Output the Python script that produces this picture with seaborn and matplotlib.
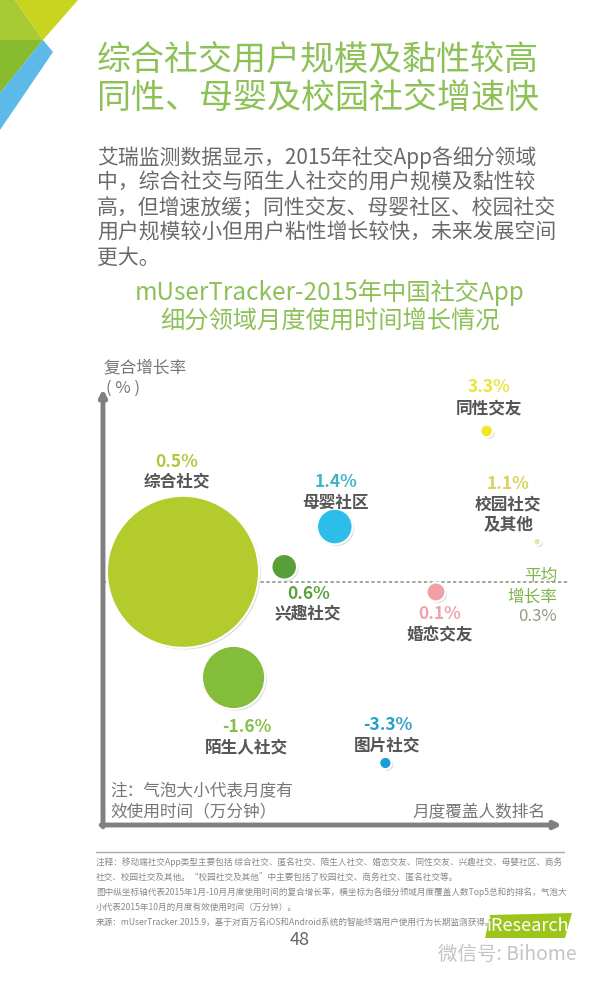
import numpy as np
import pandas as pd
import matplotlib
matplotlib.use('Agg')
import matplotlib.pyplot as plt
import matplotlib.patheffects as pe
from matplotlib.patches import Polygon
import seaborn as sns

# ---------------- data ----------------
categories = ['综合社交', '陌生人社交', '兴趣社交', '母婴社区', '图片社交', '婚恋交友', '同性交友', '校园社交\n及其他']
coverage_rank = [1, 2, 3, 4, 5, 6, 7, 8]            # 月度覆盖人数排名
growth_rate = [0.5, -1.6, 0.6, 1.4, -3.3, 0.1, 3.3, 1.1]  # 复合增长率 (%)
usage_time = [5780, 1000, 164, 317, 38, 90, 40, 14]  # 月度有效使用时间 (relative bubble size)
avg_growth = 0.3

title_lines = ['综合社交用户规模及黏性较高', '同性、母婴及校园社交增速快']
body_lines = ['艾瑞监测数据显示，2015年社交App各细分领域',
              '中，综合社交与陌生人社交的用户规模及黏性较',
              '高，但增速放缓；同性交友、母婴社区、校园社交',
              '用户规模较小但用户粘性增长较快，未来发展空间',
              '更大。']
chart_title = ['mUserTracker-2015年中国社交App', '细分领域月度使用时间增长情况']
footer_lines = ['注释：移动端社交App类型主要包括 综合社交、匿名社交、陌生人社交、婚恋交友、同性交友、兴趣社交、母婴社区、商务',
                '社交、校园社交及其他。“校园社交及其他”中主要包括了校园社交、商务社交、匿名社交等。',
                '图中纵坐标轴代表2015年1月-10月月度使用时间的复合增长率，横坐标为各细分领域月度覆盖人数Top5总和的排名，气泡大',
                '小代表2015年10月的月度有效使用时间（万分钟）。',
                '来源：mUserTracker.2015.9，基于对百万名iOS和Android系统的智能终端用户使用行为长期监测获得。']

# ---------------- styles ----------------
bubble_colors = {'综合社交': '#B3CB2D', '陌生人社交': '#84BD3A', '兴趣社交': '#5A9E3A', '母婴社区': '#2DBDEB',
                 '图片社交': '#1B9DD8', '婚恋交友': '#F2A0A6', '同性交友': '#F1E823', '校园社交\n及其他': '#E6E4A6'}
pct_colors = {'综合社交': '#AFC83A', '陌生人社交': '#86BE45', '兴趣社交': '#5C9F3C', '母婴社区': '#3FB6C6',
              '图片社交': '#2A9FC6', '婚恋交友': '#F0A2AA', '同性交友': '#EDE53A', '校园社交\n及其他': '#D9D257'}
# label offsets from bubble centre in pixels (pct dx, pct dy, name dy); dy positive = up
label_offsets = {'综合社交': (-6, 110, 90), '陌生人社交': (13, -50, -70), '兴趣社交': (24, -27, -47),
                 '母婴社区': (1, 45, 24), '图片社交': (2, 38, 18), '婚恋交友': (4, -22, -44),
                 '同性交友': (2, 44, 23), '校园社交\n及其他': (-29, 58, 27)}

sns.set_style('white')
plt.rcParams['font.family'] = ['Noto Sans CJK SC', 'DejaVu Sans']

W, H = 600, 984
fig = plt.figure(figsize=(W / 100, H / 100), dpi=100)
fig.patch.set_facecolor('white')


def ftext(x, y, s, **kw):
    return fig.text(x / W, 1 - y / H, s, **kw)


def fpoly(pts, color):
    fig.patches.append(Polygon([(x / W, 1 - y / H) for x, y in pts], closed=True,
                               transform=fig.transFigure, facecolor=color, edgecolor='none'))


# decoration top-left
fpoly([(0, 0), (15, 0), (43, 40), (0, 40)], '#A8CB35')
fpoly([(15, 0), (78, 0), (43, 40)], '#C8D41E')
fpoly([(0, 40), (43, 40), (0, 93)], '#86BC2E')
fpoly([(43, 40), (53, 52), (0, 130), (0, 93)], '#5DBAE8')

# titles
green = '#8DC157'
for i, t in enumerate(title_lines):
    ftext(97, 60 + 38 * i, t, fontsize=24.5, color=green, va='center', ha='left')
for i, t in enumerate(body_lines):
    ftext(97, 158 + 25 * i, t, fontsize=15, color='#6A6A6A', va='center', ha='left')
for i, t in enumerate(chart_title):
    ftext(330, 293 + 29 * i, t, fontsize=17.5, color=green, va='center', ha='center')

# ---------------- chart ----------------
left_px, right_px, top_px, bottom_px = 103, 562, 389, 825
ax = fig.add_axes([left_px / W, 1 - bottom_px / H, (right_px - left_px) / W, (bottom_px - top_px) / H])
ax.set_facecolor('none')
ax.set_xlim(-0.581, 8.49)
ax.set_ylim(-4.533, 4.135)
for sp in ax.spines.values():
    sp.set_visible(False)
ax.set_xticks([])
ax.set_yticks([])

df = pd.DataFrame({'cat': categories, 'rank': coverage_rank, 'growth': growth_rate, 'usage': usage_time})

# average line
ax.axhline(avg_growth, xmin=0, xmax=1.013, color='#8E9C86', lw=1.2, ls=(0, (2, 1.5)), zorder=1, clip_on=False)

scale = 1.44 ** 2
sns.scatterplot(data=df, x='rank', y='growth', hue='cat', palette=bubble_colors, size='usage',
                sizes=(0, scale * max(usage_time)), size_norm=(0, max(usage_time)),
                legend=False, edgecolor='white', linewidth=1.5, alpha=1, ax=ax, zorder=3)
ax.collections[-1].set_path_effects([pe.SimplePatchShadow(offset=(1.2, -1.2), alpha=0.25, shadow_rgbFace='#777777'),
                                     pe.Normal()])
ax.set_xlabel('')
ax.set_ylabel('')

px2pt = 0.72
for cat, r, g in zip(categories, coverage_rank, growth_rate):
    dx, dyp, dyn = label_offsets[cat]
    ax.annotate(f'{g:.1f}%', xy=(r, g), xytext=(dx * px2pt, dyp * px2pt), textcoords='offset points',
                ha='center', va='center', fontsize=12.5, fontweight='bold', color=pct_colors[cat], zorder=5)
    ax.annotate(cat, xy=(r, g), xytext=(dx * px2pt, dyn * px2pt), textcoords='offset points',
                ha='center', va='center', fontsize=12, fontweight='bold', color='#555555',
                linespacing=1.15, zorder=5)

# average label
ax.annotate('平均', xy=(1.0, avg_growth), xycoords=('axes fraction', 'data'), xytext=(-3.6, 5 * px2pt),
            textcoords='offset points', ha='right', va='center', fontsize=12, color='#7DB54A')
ax.annotate('增长率', xy=(1.0, avg_growth), xycoords=('axes fraction', 'data'), xytext=(-3.6, -15 * px2pt),
            textcoords='offset points', ha='right', va='center', fontsize=12, color='#7DB54A')
ax.annotate(f'{avg_growth:.1f}%', xy=(1.0, avg_growth), xycoords=('axes fraction', 'data'), xytext=(-3.6, -35 * px2pt),
            textcoords='offset points', ha='right', va='center', fontsize=12, color='#8E9C86')

# axes arrows
axis_col = '#808080'
ax.annotate('', xy=(0, 1), xytext=(0, -0.004), xycoords='axes fraction',
            arrowprops=dict(arrowstyle='-|>', lw=3.5, color=axis_col, shrinkA=0, shrinkB=0, mutation_scale=10))
ax.annotate('', xy=(1, 0), xytext=(-0.004, 0), xycoords='axes fraction',
            arrowprops=dict(arrowstyle='-|>', lw=3.5, color=axis_col, shrinkA=0, shrinkB=0, mutation_scale=10))

# axis texts
ftext(103, 368, '复合增长率', fontsize=12, color='#777777', va='center', ha='left')
ftext(106, 388, '( % )', fontsize=12, color='#777777', va='center', ha='left')
ftext(110, 792, '注：气泡大小代表月度有', fontsize=12, color='#777777', va='center', ha='left')
ftext(110, 812, '效使用时间（万分钟）', fontsize=12, color='#777777', va='center', ha='left')
ftext(545, 812, '月度覆盖人数排名', fontsize=12, color='#777777', va='center', ha='right')

# footer
fig.add_artist(plt.Line2D([96 / W, 564 / W], [1 - 852 / H, 1 - 852 / H], color='#AAAAAA', lw=1))
for i, t in enumerate(footer_lines):
    ftext(96, 862 + 15 * i, t, fontsize=6.2, color='#888888', va='center', ha='left')
ftext(300, 940, '48', fontsize=13, color='#666666', va='center', ha='center')

# logo & watermark
fpoly([(490, 915), (572, 913), (565, 938), (485, 938)], '#9DC41B')
ftext(528, 926, 'iResearch', fontsize=13, color='white', va='center', ha='center')
ftext(438, 954, '微信号: Bihome', fontsize=14, color='#C4C4C4', va='center', ha='left')

fig.savefig('out.png', dpi=100, facecolor='white')
